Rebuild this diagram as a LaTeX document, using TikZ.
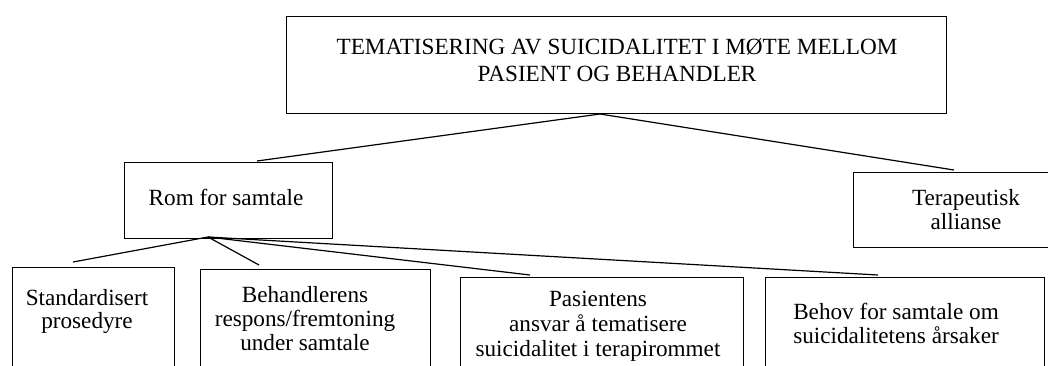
\documentclass[tikz,border=0pt]{standalone}
\usepackage{fontspec}
\setmainfont{Liberation Serif}
\begin{document}
\begin{tikzpicture}[x=1pt,y=-1pt,
  box/.style={draw=black, line width=1.3pt, rectangle, inner sep=0pt, anchor=north west},
  link/.style={draw=black, line width=1.2pt},
  txt/.style={inner sep=0pt, align=center, anchor=north, font=\fontsize{23.2}{24.5}\selectfont}]
\clip (0,0) rectangle (1048,365);
% boxes
\node[box, minimum width=660pt, minimum height=97pt] (top) at (286,16) {};
\node[box, minimum width=208pt, minimum height=76pt] (rom) at (124,162) {};
\node[box, minimum width=227pt, minimum height=75pt] (ter) at (853,172) {};
\node[box, minimum width=162pt, minimum height=140pt] (std) at (12,267) {};
\node[box, minimum width=230pt, minimum height=140pt] (beh) at (200,269) {};
\node[box, minimum width=283pt, minimum height=140pt] (pas) at (460,277) {};
\node[box, minimum width=279pt, minimum height=140pt] (behov) at (765,277) {};
% texts
\node[txt, font=\fontsize{23.2}{27}\selectfont] (topT) at (617,39) {TEMATISERING AV SUICIDALITET I MØTE MELLOM\\PASIENT OG BEHANDLER};
\node[txt, anchor=base] (romT) at (226,205) {Rom for samtale};
\node[txt] (terT) at (966,189) {Terapeutisk\\allianse};
\node[txt, font=\fontsize{23.2}{23}\selectfont] (stdT) at (87,289) {Standardisert\\prosedyre};
\node[txt, font=\fontsize{23.2}{24}\selectfont] (behT) at (305,286) {Behandlerens\\respons/fremtoning\\under samtale};
\node[txt, font=\fontsize{23.2}{25}\selectfont] (pasT) at (598,291) {Pasientens\\ansvar å tematisere\\suicidalitet i terapirommet};
\node[txt, font=\fontsize{23.2}{24}\selectfont] (behovT) at (896,303) {Behov for samtale om\\suicidalitetens årsaker};
% connector end points
\coordinate (apex) at (600,114);
\coordinate (romIn) at (257,161);
\coordinate (terIn) at (954,170);
\coordinate (romOut) at (208,237);
\coordinate (stdIn) at (73,262);
\coordinate (behIn) at (259,265);
\coordinate (pasIn) at (530,275);
\coordinate (behovIn) at (878,275);
% connectors
\draw[link] (apex) -- (romIn);
\draw[link] (apex) -- (terIn);
\draw[link] (romOut) -- (stdIn);
\draw[link] (romOut) -- (behIn);
\draw[link] (romOut) -- (pasIn);
\draw[link] (romOut) -- (behovIn);
\end{tikzpicture}
\end{document}
